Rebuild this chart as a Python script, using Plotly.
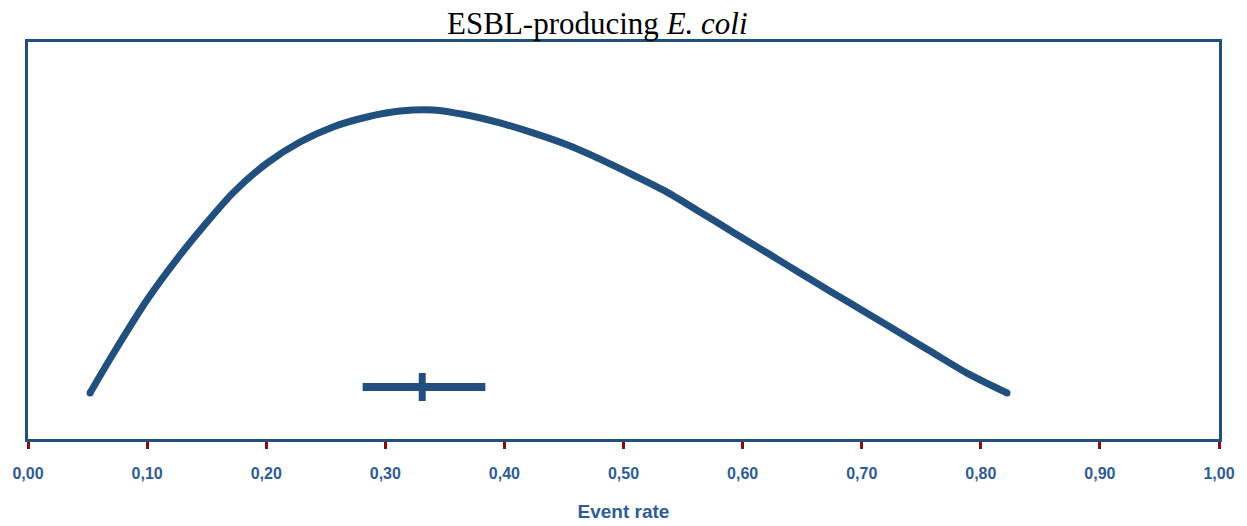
import plotly.graph_objects as go

# Curve (event-rate distribution)
curve_x = [0.0521, 0.0714, 0.0999, 0.1276, 0.1469, 0.1721, 0.2007, 0.2284, 0.2561, 0.2846,
           0.3123, 0.3401, 0.3686, 0.3963, 0.4240, 0.4526, 0.4803, 0.5080, 0.5365, 0.5642,
           0.5919, 0.6205, 0.6482, 0.6759, 0.7045, 0.7322, 0.7599, 0.7884, 0.8220]
curve_y = [0.116, 0.214, 0.350, 0.463, 0.534, 0.620, 0.695, 0.748, 0.786, 0.811,
           0.826, 0.829, 0.816, 0.796, 0.771, 0.741, 0.705, 0.665, 0.622, 0.572,
           0.521, 0.469, 0.418, 0.368, 0.317, 0.267, 0.217, 0.166, 0.116]

# Pooled estimate and confidence interval
est_x = [0.331]
est_y = [0.131]
ci_low = [0.281]
ci_high = [0.384]

tick_vals = [0.0, 0.1, 0.2, 0.3, 0.4, 0.5, 0.6, 0.7, 0.8, 0.9, 1.0]

navy = "#22507E"
label_blue = "#2E5C94"
tick_red = "#8B0A0A"

fig = go.Figure()
fig.add_trace(go.Scatter(
    x=curve_x, y=curve_y, mode="lines",
    line=dict(color=navy, width=7, shape="spline", smoothing=0.8),
    hoverinfo="skip", showlegend=False,
))
fig.add_trace(go.Scatter(
    x=[curve_x[0], curve_x[-1]], y=[curve_y[0], curve_y[-1]], mode="markers",
    marker=dict(color=navy, size=7), hoverinfo="skip", showlegend=False,
))
fig.add_trace(go.Scatter(
    x=est_x, y=est_y, mode="markers",
    marker=dict(symbol="line-ns", size=20, color=navy, line=dict(color=navy, width=7)),
    error_x=dict(type="data", symmetric=False,
                 array=[h - e for h, e in zip(ci_high, est_x)],
                 arrayminus=[e - l for l, e in zip(ci_low, est_x)],
                 thickness=8, width=0, color=navy),
    showlegend=False,
))

fig.update_layout(
    width=1247, height=526,
    margin=dict(l=28, r=28, t=42, b=87),
    paper_bgcolor="white", plot_bgcolor="white",
    separators=",.",
    title=dict(
        text="ESBL-producing <i>E. coli</i>",
        x=0.479, xanchor="center", y=0.956, yanchor="middle",
        font=dict(family="Liberation Serif", size=31, color="black"),
    ),
    xaxis=dict(
        range=[0, 1], tickvals=tick_vals, tickformat=".2f",
        showgrid=False, zeroline=False, automargin=False,
        showline=True, mirror=True, linecolor=navy, linewidth=3,
        ticks="outside", ticklen=7, tickwidth=3, tickcolor=tick_red,
        tickfont=dict(family="Liberation Sans", size=16, color=label_blue, weight="bold"),
        ticklabelstandoff=11,
        title=dict(text="<b>Event rate</b>", standoff=24,
                   font=dict(family="Liberation Sans", size=19, color=label_blue)),
    ),
    yaxis=dict(
        range=[0, 1], showticklabels=False, ticks="",
        showgrid=False, zeroline=False, automargin=False,
        showline=True, mirror=True, linecolor=navy, linewidth=3,
    ),
)

fig.write_html("out.html")
